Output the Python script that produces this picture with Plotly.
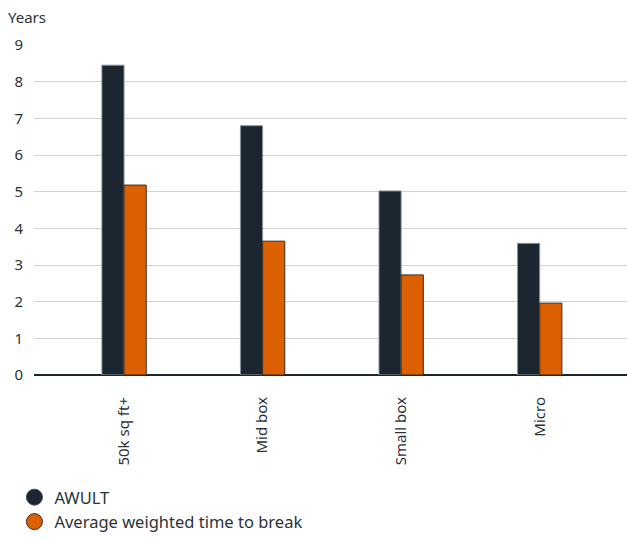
import plotly.graph_objects as go

categories = ["50k sq ft+", "Mid box", "Small box", "Micro"]
awult = [8.45, 6.8, 5.02, 3.59]
time_to_break = [5.18, 3.65, 2.73, 1.96]
series_names = ["AWULT", "Average weighted time to break"]
y_ticks = [0, 1, 2, 3, 4, 5, 6, 7, 8, 9]

DARK = "#1c2630"
ORANGE = "#dd6000"
TEXT = "#2b3238"
FONT = "Noto Sans"

fig = go.Figure()
fig.add_trace(go.Bar(
    x=categories, y=awult, name=series_names[0], showlegend=False,
    marker=dict(color=DARK, line=dict(color="#8e969c", width=1)),
))
fig.add_trace(go.Bar(
    x=categories, y=time_to_break, name=series_names[1], showlegend=False,
    marker=dict(color=ORANGE, line=dict(color="#3b2a1e", width=1)),
))
# circular legend markers
for name, col, edge in [(series_names[0], DARK, "#3a444c"), (series_names[1], ORANGE, "#3b2a1e")]:
    fig.add_trace(go.Scatter(
        x=[None], y=[None], mode="markers", name=name,
        marker=dict(symbol="circle", size=16, color=col, line=dict(color=edge, width=1)),
    ))

fig.update_layout(
    width=627, height=539,
    margin=dict(l=34, r=0, t=45, b=164, autoexpand=False),
    plot_bgcolor="white", paper_bgcolor="white",
    barmode="group", bargap=0.68, bargroupgap=0,
    font=dict(family=FONT, size=15, color=TEXT),
    xaxis=dict(
        type="category", range=[-0.65, 3.63], tickangle=-90, automargin=False,
        showgrid=False, showline=False, ticks="", ticklabelstandoff=18,
        tickfont=dict(size=15, color=TEXT),
    ),
    yaxis=dict(
        range=[0, 9], tickvals=y_ticks, showgrid=True, gridcolor="#d2d2d2", gridwidth=1,
        zeroline=True, zerolinecolor=DARK, zerolinewidth=2, showline=False, automargin=False,
        ticks="", ticklabelstandoff=10, tickfont=dict(size=15, color=TEXT),
    ),
    legend=dict(
        orientation="v", x=-0.033, xanchor="left", y=-0.318, yanchor="top",
        font=dict(size=16.5, color=TEXT), tracegroupgap=0, itemsizing="trace",
    ),
    annotations=[dict(
        text="Years", xref="paper", yref="paper", x=-0.047, y=1.085,
        xanchor="left", yanchor="middle", showarrow=False,
        font=dict(size=15, color=TEXT),
    )],
)

fig.write_html("out.html")
